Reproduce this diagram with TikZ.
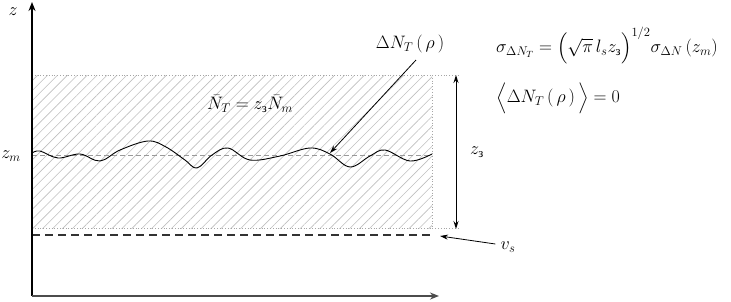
\documentclass[tikz,border=0pt]{standalone}
\usepackage{fix-cm}
\usepackage{amsmath}
\usepackage{fontspec}
\newfontfamily\cyr{Liberation Serif}
\usetikzlibrary{arrows.meta,patterns.meta}
\newcommand{\zsub}{\text{\cyr з}}
\begin{document}
\begin{tikzpicture}[x=1pt,y=-1pt,
  axis/.style={line width=1.6pt,-{Stealth[length=9pt,width=7pt]}},
  dotline/.style={gray!70,dotted,line width=0.8pt},
  thin arrow/.style={line width=0.8pt,-{Stealth[length=8pt,width=5pt]}},
  lbl/.style={inner sep=1pt,font=\fontsize{18}{20}\selectfont}]
\useasboundingbox (0,0) rectangle (731,301);
% hatched layer
\fill[pattern={Lines[angle=45,distance=7pt,line width=0.6pt]},pattern color=gray!50] (32,75) rectangle (432,228);
% coordinates
\coordinate (O) at (32,296);
\coordinate (ytip) at (32,2);
\coordinate (xtip) at (439,296);
\coordinate (tl) at (32,75);
\coordinate (tr) at (460,75);
\coordinate (br) at (432,228);
\coordinate (bl) at (32,228);
\coordinate (brx) at (460,228);
\coordinate (rt) at (432,75);
\coordinate (vsL) at (32,235);
\coordinate (vsR) at (432,235);
\coordinate (zmL) at (32,155);
\coordinate (zmR) at (432,155);
\coordinate (dt) at (456,75);
\coordinate (db) at (456,229);
\coordinate (hit) at (330,153);
\coordinate (vsend) at (440,236);
% boundaries
\draw[dotline] (tl) -- (tr);
\draw[dotline] (bl) -- (brx);
\draw[dotline] (rt) -- (br);
\draw[gray!80,dashed,dash pattern=on 5pt off 3pt,line width=0.8pt] (zmL) -- (zmR);
\draw[black!80,line width=1.8pt,dash pattern=on 8pt off 5pt] (vsL) -- (vsR);
% wavy surface
\draw[line width=0.9pt] plot[smooth,tension=0.6] coordinates {
 (32,153) (40,151) (58,158) (80,154) (100,161) (120,150) (148,141) (166,147)
 (185,160) (197,168) (212,155) (228,148) (250,160) (280,156) (310,148) (330,154)
 (350,167) (370,156) (385,150) (410,161) (432,154)};
% axes
\draw[axis,black] (O) -- (ytip);
\draw[axis,black!70] (O) -- (xtip);
% labels
\node[lbl] (zlab) at (13,12) {$z$};
\node[lbl] (zm) at (11,156) {$z_m$};
\node[lbl] (Nt) at (250,104) {$\bar{N}_T = z_{\zsub}\bar{N}_m$};
\node[lbl] (dN) at (410,44) {$\Delta N_T\,(\,\rho\,)$};
\node[lbl] (ze) at (477,152) {$z_{\zsub}$};
\node[lbl] (vs) at (508,247) {$v_s$};
\node[lbl,anchor=west] (f1) at (495,46) {$\sigma_{\Delta N_T} = \Big(\sqrt{\pi}\, l_s z_{\zsub}\Big)^{1/2}\sigma_{\Delta N}\left(z_m\right)$};
\node[lbl,anchor=west] (f2) at (495,98) {$\Big\langle \Delta N_T\left(\,\rho\,\right)\Big\rangle = 0$};
% arrows
\draw[thin arrow] (416,60) -- (hit);
\draw[line width=1pt,{Stealth[length=8pt,width=5pt]}-{Stealth[length=8pt,width=5pt]}] (dt) -- (db);
\draw[thin arrow] (vs.west) ++(-4,-3) -- (vsend);
\end{tikzpicture}
\end{document}
